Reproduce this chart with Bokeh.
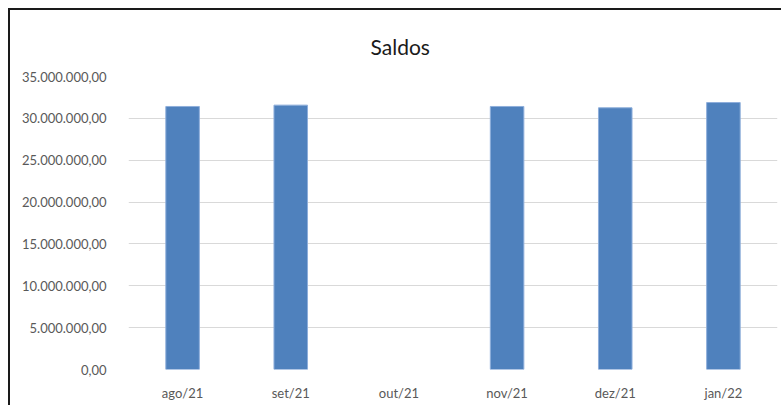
import numpy as np
from bokeh.plotting import figure
from bokeh.models import ColumnDataSource, FixedTicker, CustomJSTickFormatter
from bokeh.embed import file_html
from bokeh.resources import INLINE

categories = ["ago/21", "set/21", "out/21", "nov/21", "dez/21", "jan/22"]
saldos = [31420000, 31580000, np.nan, 31420000, 31260000, 31890000]
y_ticks = [0, 5000000, 10000000, 15000000, 20000000, 25000000, 30000000, 35000000]
title_text = "Saldos"

source = ColumnDataSource(data=dict(cat=categories, val=np.array(saldos, dtype=float)))

p = figure(x_range=categories, y_range=(0, 35000000), width=773, height=397,
           output_backend="svg", toolbar_location=None, title=title_text,
           min_border_left=118, min_border_right=6, min_border_top=66, min_border_bottom=38)
p.styles = {"margin-left": "8px", "margin-top": "8px",
            "border-top": "2px solid #1a1a1a", "border-left": "2px solid #1a1a1a"}
p.outline_line_color = None
p.background_fill_color = "white"
p.border_fill_color = "white"
p.x_range.range_padding = 0

p.title.align = "left"
p.title.offset = 242
p.title.standoff = 35
p.title.text_font = "Lato"
p.title.text_font_size = "21px"
p.title.text_font_style = "normal"
p.title.text_color = "#1a1a1a"

p.vbar(x="cat", top="val", width=0.31, source=source, fill_color="#4f81bd",
       line_color="#8eaedb", line_width=1)

p.yaxis.ticker = FixedTicker(ticks=y_ticks)
p.yaxis.formatter = CustomJSTickFormatter(code="""
const s = Math.round(tick).toString().replace(/\\B(?=(\\d{3})+(?!\\d))/g, ".");
return s + ",00";
""")
for ax in (p.xaxis, p.yaxis):
    ax.axis_line_color = None
    ax.major_tick_line_color = None
    ax.minor_tick_line_color = None
    ax.major_label_text_font = "Lato"
    ax.major_label_text_font_size = "13px"
    ax.major_label_text_color = "#595959"
p.yaxis.major_label_standoff = 16
p.xaxis.major_label_standoff = 9
p.xgrid.grid_line_color = None
p.ygrid.grid_line_color = "#d9d9d9"
p.ygrid.grid_line_width = 1

open("out.html", "w").write(file_html(p, INLINE))
